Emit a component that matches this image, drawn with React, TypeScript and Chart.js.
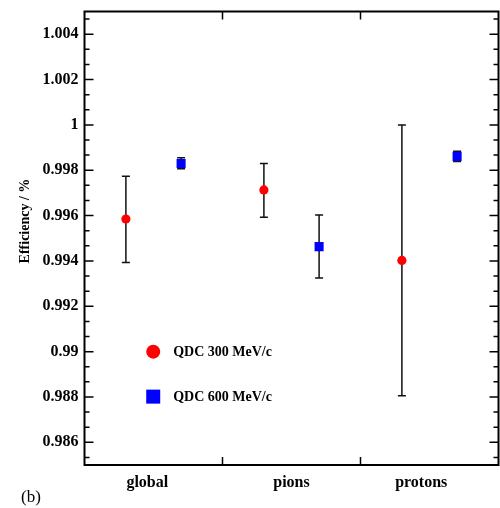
import React, { useEffect, useRef } from "react";
import { Chart, registerables } from "chart.js";

Chart.register(...registerables);

const categories = ["global", "pions", "protons"];
const categoryLabelPositions = [0.455, 1.5, 2.44];
const seriesLabels = ["QDC 300 MeV/c", "QDC 600 MeV/c"];
const seriesOffsets = [0.3, 0.7];

const qdc300Values = [0.99585, 0.99713, 0.99402];
const qdc300Low = [0.99393, 0.99593, 0.98805];
const qdc300High = [0.99773, 0.9983, 1.0];

const qdc600Values = [0.9983, 0.99463, 0.99861];
const qdc600Low = [0.99806, 0.99325, 0.99838];
const qdc600High = [0.99855, 0.99602, 0.99884];

const yTickValues = [0.986, 0.988, 0.99, 0.992, 0.994, 0.996, 0.998, 1.0, 1.002, 1.004];
const yMin = 0.985;
const yMax = 1.005;
const xMajorTicks = [1, 2];

const SERIF = "'Liberation Serif', 'Times New Roman', serif";

const seriesStyles = [
  { color: "#ff0000", pointStyle: "circle", radius: 4.6, legendRadius: 7 },
  { color: "#0000ff", pointStyle: "rect", radius: 6.4, legendRadius: 10 },
];

const allValues = [qdc300Values, qdc600Values];
const allLow = [qdc300Low, qdc600Low];
const allHigh = [qdc300High, qdc600High];

const decorPlugin = {
  id: "decor",
  beforeDatasetsDraw(chart: any) {
    const ctx = chart.ctx;
    const xs = chart.scales.x;
    const ys = chart.scales.y;
    ctx.save();
    ctx.strokeStyle = "#111";
    ctx.lineWidth = 1.5;
    allValues.forEach((vals, s) => {
      vals.forEach((_, i) => {
        const px = xs.getPixelForValue(i + seriesOffsets[s]);
        const pLow = ys.getPixelForValue(allLow[s][i]);
        const pHigh = ys.getPixelForValue(allHigh[s][i]);
        ctx.beginPath();
        ctx.moveTo(px, pLow);
        ctx.lineTo(px, pHigh);
        ctx.moveTo(px - 4, pLow);
        ctx.lineTo(px + 4, pLow);
        ctx.moveTo(px - 4, pHigh);
        ctx.lineTo(px + 4, pHigh);
        ctx.stroke();
      });
    });
    ctx.restore();
  },
  afterDatasetsDraw(chart: any) {
    const ctx = chart.ctx;
    const ca = chart.chartArea;
    const xs = chart.scales.x;
    const ys = chart.scales.y;
    ctx.save();
    // frame
    ctx.strokeStyle = "#000";
    ctx.lineWidth = 2;
    ctx.strokeRect(ca.left, ca.top, ca.right - ca.left, ca.bottom - ca.top);

    // y ticks (major + minor), inside on both sides
    ctx.lineWidth = 1.5;
    const step = (yTickValues[1] - yTickValues[0]) / 3;
    ctx.beginPath();
    for (let k = -3; k <= (yTickValues.length - 1) * 3 + 3; k++) {
      const v = yTickValues[0] + k * step;
      if (v < yMin - 1e-9 || v > yMax + 1e-9) continue;
      const py = ys.getPixelForValue(v);
      const len = k % 3 === 0 ? 9 : 5;
      ctx.moveTo(ca.left, py);
      ctx.lineTo(ca.left + len, py);
      ctx.moveTo(ca.right, py);
      ctx.lineTo(ca.right - len, py);
    }
    // x ticks
    xMajorTicks.forEach((v) => {
      const px = xs.getPixelForValue(v);
      ctx.moveTo(px, ca.top);
      ctx.lineTo(px, ca.top + 8);
      ctx.moveTo(px, ca.bottom);
      ctx.lineTo(px, ca.bottom - 8);
    });
    ctx.stroke();

    // legend
    const w = ca.right - ca.left;
    const h = ca.bottom - ca.top;
    const lx = ca.left + w * 0.166;
    const ly0 = ca.top + h * 0.75;
    const dy = 45;
    seriesLabels.forEach((label, s) => {
      const st = seriesStyles[s];
      const y = ly0 + s * dy;
      ctx.fillStyle = st.color;
      if (st.pointStyle === "circle") {
        ctx.beginPath();
        ctx.arc(lx, y, st.legendRadius, 0, Math.PI * 2);
        ctx.fill();
      } else {
        const half = 7;
        ctx.fillRect(lx - half, y - half, half * 2, half * 2);
      }
      ctx.fillStyle = "#000";
      ctx.font = `bold 14px ${SERIF}`;
      ctx.textAlign = "left";
      ctx.textBaseline = "middle";
      ctx.fillText(label, lx + 20, y + 1);
    });

    // y axis title
    ctx.save();
    ctx.translate(25, ca.top + h * 0.462);
    ctx.rotate(-Math.PI / 2);
    ctx.font = `bold 14px ${SERIF}`;
    ctx.textAlign = "center";
    ctx.textBaseline = "middle";
    ctx.fillStyle = "#000";
    ctx.fillText("Efficiency / %", 0, 0);
    ctx.restore();

    // panel label
    ctx.font = `17px ${SERIF}`;
    ctx.textAlign = "left";
    ctx.textBaseline = "middle";
    ctx.fillStyle = "#000";
    ctx.fillText("(b)", 21, 498);
    ctx.restore();
  },
};

export default function App() {
  const canvasRef = useRef<HTMLCanvasElement | null>(null);

  useEffect(() => {
    if (!canvasRef.current) return;
    const datasets = allValues.map((vals, s) => ({
      label: seriesLabels[s],
      data: vals.map((v, i) => ({ x: i + seriesOffsets[s], y: v })),
      backgroundColor: seriesStyles[s].color,
      borderColor: seriesStyles[s].color,
      borderWidth: 0,
      pointStyle: seriesStyles[s].pointStyle,
      pointRadius: seriesStyles[s].radius,
      showLine: false,
    }));
    const chart = new Chart(canvasRef.current, {
      type: "scatter",
      data: { datasets } as any,
      options: {
        responsive: false,
        animation: false,
        layout: { autoPadding: false, padding: { top: 11.5, right: 1.5, left: 0, bottom: 0 } },
        plugins: {
          legend: { display: false },
          tooltip: { enabled: false },
          title: { display: false },
        },
        scales: {
          x: {
            type: "linear",
            min: 0,
            max: 3,
            grid: { display: false, drawTicks: false },
            border: { display: false },
            afterBuildTicks: (scale: any) => {
              scale.ticks = categoryLabelPositions.map((p) => ({ value: p }));
            },
            afterFit: (scale: any) => {
              scale.height = 43;
              scale.paddingLeft = 0;
              scale.paddingRight = 0;
            },
            ticks: {
              autoSkip: false,
              maxRotation: 0,
              padding: 8,
              color: "#000",
              font: { family: SERIF, size: 16, weight: "bold" },
              callback: (v: any) => categories[Math.floor(Number(v))],
            },
          },
          y: {
            type: "linear",
            min: yMin,
            max: yMax,
            grid: { display: false, drawTicks: false },
            border: { display: false },
            afterBuildTicks: (scale: any) => {
              scale.ticks = yTickValues.map((v) => ({ value: v }));
            },
            afterFit: (scale: any) => {
              scale.width = 84.5;
              scale.paddingTop = 0;
              scale.paddingBottom = 0;
            },
            ticks: {
              padding: 6,
              color: "#000",
              font: { family: SERIF, size: 16, weight: "bold" },
              callback: (v: any) => String(parseFloat(Number(v).toFixed(3))),
            },
          },
        },
      } as any,
      plugins: [decorPlugin],
    });
    return () => chart.destroy();
  }, []);

  return (
    <div style={{ position: "fixed", left: 0, top: 0, width: 500, height: 508, background: "#fff" }}>
      <canvas ref={canvasRef} width={500} height={508} style={{ display: "block" }} />
    </div>
  );
}
